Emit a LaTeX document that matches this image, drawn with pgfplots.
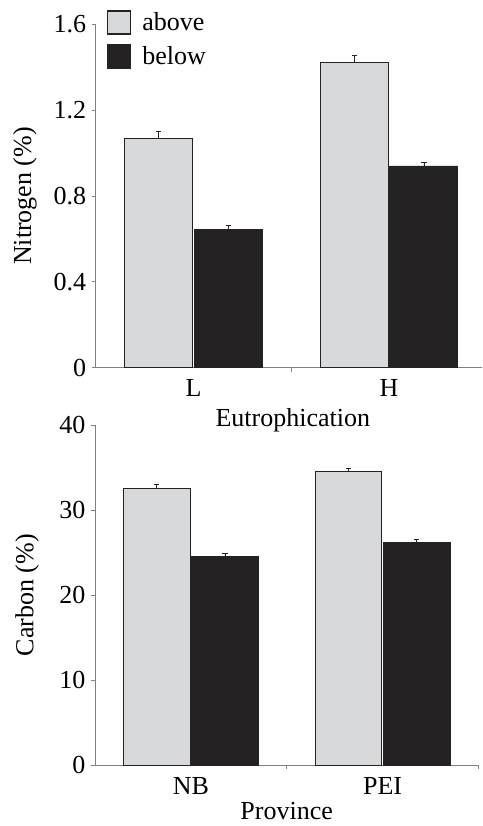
\documentclass[border=0pt]{standalone}
\usepackage{fontspec}
\setmainfont{Liberation Serif}
\usepackage{pgfplots}
\pgfplotsset{compat=1.18}
\definecolor{barlight}{HTML}{D8D9DB}
\definecolor{bardark}{HTML}{252223}
\definecolor{axisgray}{HTML}{808080}
\pgfplotsset{
  mybars/.style={
    ybar,
    scale only axis,
    /pgf/number format/assume math mode=true,
    axis lines*=left,
    axis line style={draw=axisgray, line width=1bp, -},
    xmin=-0.5,
    xtick={0.5,1.5}, xticklabels={},
    major tick length=4bp,
    tick align=outside,
    tick style={draw=axisgray, line width=0.8bp},
    extra x tick style={major tick length=0pt, tick style={draw=none}},
    extra x tick labels={},
    xticklabel style={anchor=base, yshift=-29bp},
    yticklabel style={anchor=east, xshift=-2bp},
    bar width=0.348,
    error bars/y dir=plus,
    error bars/y explicit,
    error bars/error bar style={draw=bardark, line width=0.7bp},
    error bars/error mark options={rotate=90, mark size=2.6bp, line width=0.7bp, draw=bardark},
    clip=false,
  },
  abovebar/.style={fill=barlight, draw=bardark, line width=0.9bp, bar shift=-0.178},
  belowbar/.style={fill=bardark, draw=bardark, line width=0.9bp, bar shift=0.178},
}
\begin{document}
\begin{tikzpicture}[font=\fontsize{26bp}{31bp}\selectfont]
\useasboundingbox (0,0) rectangle (483bp,-826bp);
% top panel
\begin{axis}[mybars,
  at={(95.7bp,-367.7bp)}, anchor=south west,
  width=386.3bp, height=343.4bp,
  xmax=1.475,
  ymin=0, ymax=1.6,
  ytick={0,0.4,0.8,1.2,1.6},
  yticklabels={0,0.4,0.8,1.2,1.6},
  extra x ticks={0,1},
  extra x tick labels={L,H},
  ylabel={Nitrogen (\%)},
  ylabel style={at={(axis description cs:-0.183,0.5)}, anchor=center},
  xlabel={Eutrophication},
  xlabel style={at={(axis description cs:0.5,0)}, anchor=base, yshift=-59bp, xshift=4bp},
  legend cell align=left,
  legend image code/.code={\draw[#1, line width=1.6bp] (0bp,-11.6bp) rectangle (23bp,11.7bp);},
  legend style={at={(axis description cs:0,1)}, anchor=north west,
    xshift=11bp, yshift=14.3bp, draw=none, fill=none,
    inner sep=0pt, outer sep=0pt, row sep=8.8bp, column sep=11bp,
    nodes={inner sep=0pt, outer sep=0pt},
    font=\fontsize{26bp}{31bp}\selectfont},
]
\addplot[abovebar] coordinates {(0,1.069) +- (0,0.031) (1,1.423) +- (0,0.034)};
\addlegendentry{above}
\addplot[belowbar] coordinates {(0,0.642) +- (0,0.020) (1,0.940) +- (0,0.019)};
\addlegendentry{below}
\end{axis}
% bottom panel
\begin{axis}[mybars,
  at={(95bp,-765.3bp)}, anchor=south west,
  width=383.4bp, height=340.3bp,
  xmax=1.5,
  ymin=0, ymax=40,
  ytick={0,10,20,30,40},
  yticklabels={0,10,20,30,40},
  extra x ticks={0,1},
  extra x tick labels={NB,PEI},
  ylabel={Carbon (\%)},
  ylabel style={at={(axis description cs:-0.177,0.5)}, anchor=center},
  xlabel={Province},
  xlabel style={at={(axis description cs:0.5,0)}, anchor=base, yshift=-54.5bp, inner sep=0pt, outer sep=0pt},
]
\addplot[abovebar] coordinates {(0,32.5) +- (0,0.5) (1,34.6) +- (0,0.35)};
\addplot[belowbar] coordinates {(0,24.6) +- (0,0.35) (1,26.2) +- (0,0.35)};
\end{axis}
\end{tikzpicture}
\end{document}
